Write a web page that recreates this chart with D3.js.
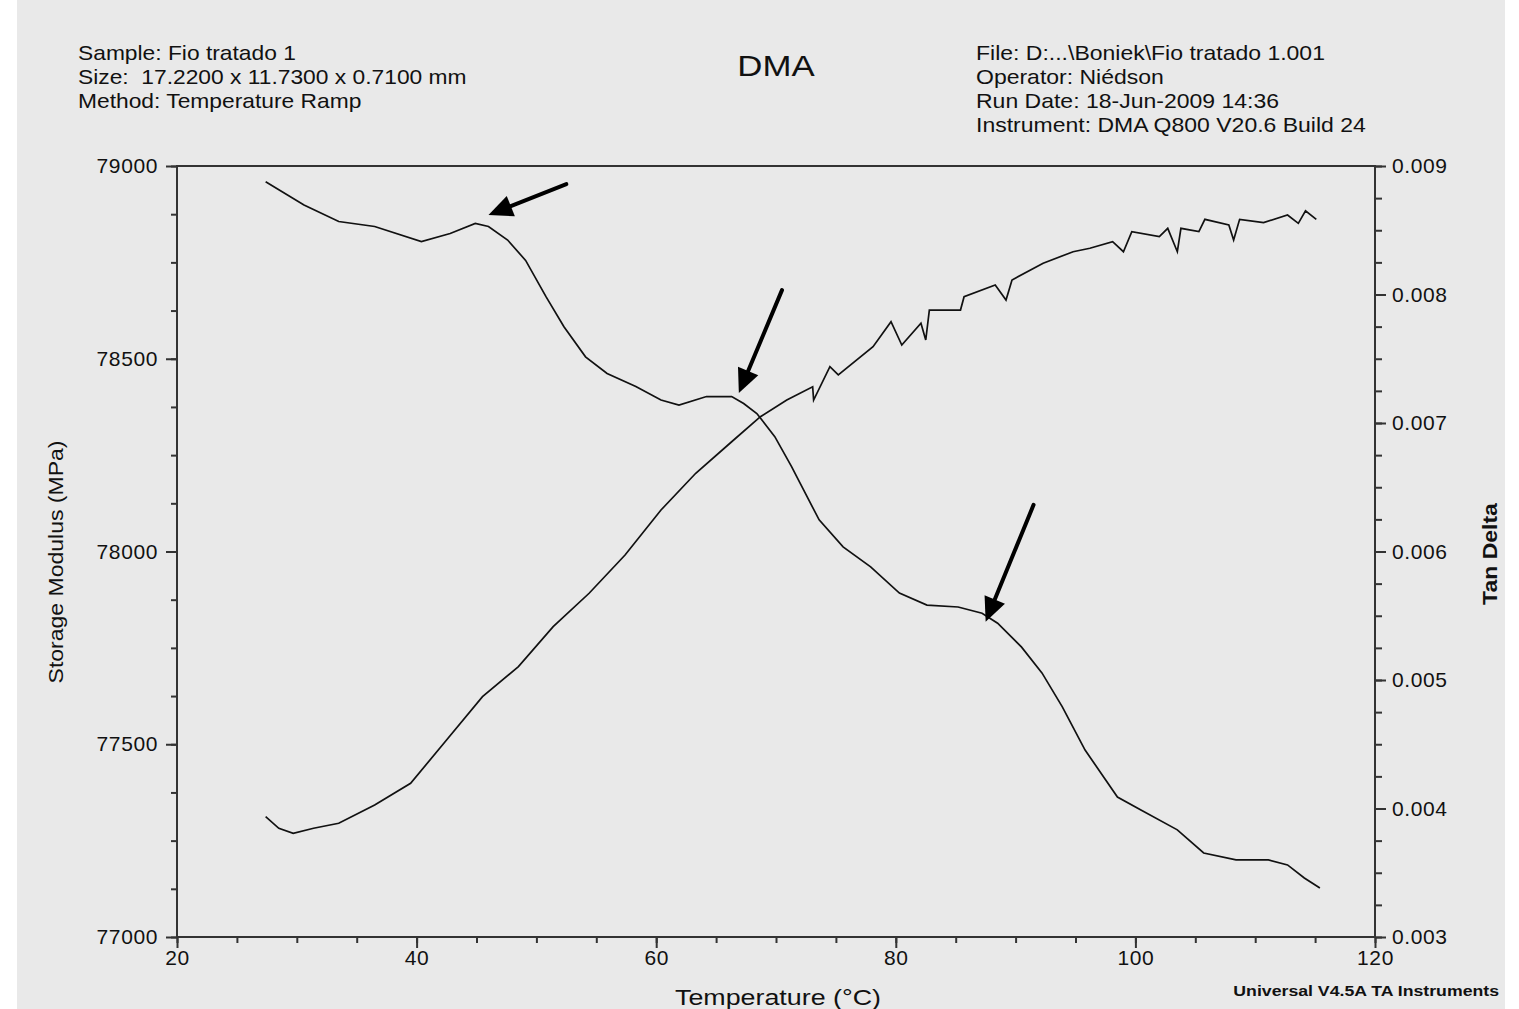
<!DOCTYPE html>
<html>
<head>
<meta charset="utf-8">
<script src="https://cdn.jsdelivr.net/npm/d3@7"></script>
<style>
  body { margin: 0; background: #fff; }
  text { font-family: "Liberation Sans", Arial, sans-serif; fill: #111; white-space: pre; }
</style>
</head>
<body>
<svg id="dma"></svg>
<script>
// storage modulus curve (left axis), temperature in °C
var smTemp = [27.4, 30.6, 33.5, 36.5, 40.4, 42.8, 44.9, 46.0, 47.6, 49.1, 50.8, 52.3, 54.1, 55.9, 58.3, 60.4,
  61.9, 64.2, 66.3, 67.3, 68.4, 69.9, 71.3, 72.0, 73.6, 75.6, 77.9, 80.3, 82.6, 85.2, 87.2, 88.5, 90.5, 92.2,
  93.9, 95.8, 98.5, 100.5, 103.5, 105.7, 108.4, 111.1, 112.7, 114.1, 115.4];
var smValue = [78959, 78899, 78856, 78843, 78804, 78825, 78851, 78843, 78808, 78755, 78661, 78583, 78505, 78462, 78428, 78393,
  78380, 78402, 78402, 78384, 78358, 78298, 78220, 78178, 78082, 78012, 77960, 77892, 77861, 77856, 77840, 77814, 77752, 77685,
  77597, 77485, 77363, 77329, 77278, 77218, 77200, 77200, 77187, 77153, 77127];

// tan delta curve (right axis)
var tdTemp = [27.4, 28.5, 29.7, 31.4, 33.5, 36.5, 39.5, 42.5, 45.5, 48.5, 51.4, 54.4, 57.4, 60.4, 63.3, 66.3,
  68.7, 70.9, 73.06, 73.14, 74.5, 75.2, 78.1, 79.6, 80.5, 82.1, 82.5, 82.8, 85.4, 85.7, 88.3, 89.2, 89.7, 92.3,
  94.8, 96.2, 98.1, 99.0, 99.7, 102.0, 102.7, 103.5, 103.8, 105.3, 105.8, 107.8, 108.2, 108.7, 110.7, 112.7,
  113.6, 114.2, 115.1];
var tdValue = [0.003936, 0.003846, 0.003807, 0.003846, 0.003885, 0.004027, 0.004196, 0.004533, 0.004870, 0.005104,
  0.005415, 0.005675, 0.005973, 0.006323, 0.006609, 0.006854, 0.007049, 0.007179, 0.007282, 0.007179, 0.007438,
  0.007374, 0.007594, 0.007788, 0.007607, 0.007776, 0.007646, 0.007879, 0.007879, 0.007983, 0.008074, 0.007957,
  0.008113, 0.008243, 0.008333, 0.008360, 0.008411, 0.008333, 0.008489, 0.008450, 0.008515, 0.008333, 0.008515,
  0.008489, 0.008585, 0.008541, 0.008424, 0.008585, 0.008559, 0.008619, 0.008554, 0.008652, 0.008585];

// annotation arrows, [tail T, tail MPa, tip T, tip MPa]
var arrows = [
  [52.5, 78953, 46.0, 78873],
  [70.5, 78678, 66.9, 78411],
  [91.5, 78121, 87.5, 77818]
];

var xTicks = [20, 40, 60, 80, 100, 120];
var yLeftTicks = [77000, 77500, 78000, 78500, 79000];
var yRightTicks = [0.003, 0.004, 0.005, 0.006, 0.007, 0.008, 0.009];

var headerLeft = ["Sample: Fio tratado 1", "Size:  17.2200 x 11.7300 x 0.7100 mm", "Method: Temperature Ramp"];
var headerRight = ["File: D:...\\Boniek\\Fio tratado 1.001", "Operator: Niédson", "Run Date: 18-Jun-2009 14:36",
  "Instrument: DMA Q800 V20.6 Build 24"];

var W = 1519, H = 1009;
var margin = {top: 166, right: 144, bottom: 72, left: 177};
var width = W - margin.left - margin.right,
    height = H - margin.top - margin.bottom;

var svg = d3.select("#dma").attr("width", W).attr("height", H);

// grey page
svg.append("rect").attr("x", 17).attr("y", 0).attr("width", 1488).attr("height", H).attr("fill", "#e9e9e9");

var g = svg.append("g").attr("transform", "translate(" + margin.left + "," + margin.top + ")");

var x = d3.scaleLinear().domain([20, 120]).range([0, width]);
var yL = d3.scaleLinear().domain([77000, 79000]).range([height, 0]);
var yR = d3.scaleLinear().domain([0.003, 0.009]).range([height, 0]);

function styleAxis(sel) {
  sel.select(".domain").remove();
  sel.selectAll("line").attr("stroke", "#333").attr("stroke-width", 2);
  sel.selectAll("text").style("font-size", "21px").style("letter-spacing", "0.6px").attr("fill", "#111");
}

// minor ticks
g.append("g").attr("transform", "translate(0," + height + ")")
  .call(d3.axisBottom(x).tickValues(d3.range(20, 121, 5)).tickSize(6).tickFormat(""))
  .call(styleAxis);
g.append("g")
  .call(d3.axisLeft(yL).tickValues(d3.range(77000, 79001, 125)).tickSize(6).tickFormat(""))
  .call(styleAxis);
g.append("g").attr("transform", "translate(" + width + ",0)")
  .call(d3.axisRight(yR).tickValues(d3.range(0, 25).map(function(i) { return 0.003 + i * 0.00025; })).tickSize(7).tickFormat(""))
  .call(styleAxis);

// major ticks
g.append("g").attr("transform", "translate(0," + height + ")")
  .call(d3.axisBottom(x).tickValues(xTicks).tickSize(11).tickPadding(2).tickFormat(d3.format("d")))
  .call(styleAxis);
g.append("g")
  .call(d3.axisLeft(yL).tickValues(yLeftTicks).tickSize(11).tickPadding(8).tickFormat(d3.format("d")))
  .call(styleAxis);
g.append("g").attr("transform", "translate(" + width + ",0)")
  .call(d3.axisRight(yR).tickValues(yRightTicks).tickSize(11).tickPadding(6).tickFormat(d3.format(".3f")))
  .call(styleAxis);

// frame
g.append("rect").attr("width", width).attr("height", height)
  .attr("fill", "none").attr("stroke", "#333").attr("stroke-width", 2);

// curves
var smData = smTemp.map(function(t, i) { return [t, smValue[i]]; });
var tdData = tdTemp.map(function(t, i) { return [t, tdValue[i]]; });

g.append("path").datum(smData)
  .attr("fill", "none").attr("stroke", "#111").attr("stroke-width", 1.7)
  .attr("d", d3.line().x(function(d) { return x(d[0]); }).y(function(d) { return yL(d[1]); }));

g.append("path").datum(tdData)
  .attr("fill", "none").attr("stroke", "#111").attr("stroke-width", 1.7)
  .attr("d", d3.line().x(function(d) { return x(d[0]); }).y(function(d) { return yR(d[1]); }));

// arrows
arrows.forEach(function(a) {
  var x1 = x(a[0]), y1 = yL(a[1]), x2 = x(a[2]), y2 = yL(a[3]);
  var ang = Math.atan2(y2 - y1, x2 - x1);
  var len = 24, hw = 11;
  var bx = x2 - len * Math.cos(ang), by = y2 - len * Math.sin(ang);
  g.append("line").attr("x1", x1).attr("y1", y1).attr("x2", bx).attr("y2", by)
    .attr("stroke", "#000").attr("stroke-width", 4).attr("stroke-linecap", "round");
  g.append("polygon").attr("fill", "#000")
    .attr("points", [[x2, y2],
      [bx + hw * Math.sin(ang), by - hw * Math.cos(ang)],
      [bx - hw * Math.sin(ang), by + hw * Math.cos(ang)]].join(" "));
});

// the printout's text is a little wider than the font, so stretch it
function label(px, py, size, sx, txt, opts) {
  opts = opts || {};
  var t = svg.append("g")
    .attr("transform", "translate(" + px + "," + py + ")" + (opts.rotate ? " rotate(-90)" : "") + " scale(" + sx + ",1)")
    .append("text").style("font-size", size + "px").text(txt);
  if (opts.anchor) t.attr("text-anchor", opts.anchor);
  if (opts.bold) t.style("font-weight", "bold");
  return t;
}

headerLeft.forEach(function(d, i) { label(78, 60 + i * 24, 20, 1.14, d); });
headerRight.forEach(function(d, i) { label(976, 60 + i * 24, 20, 1.15, d); });
label(776, 76, 29, 1.2, "DMA", {anchor: "middle"});

// axis titles
label(778, 1005, 22, 1.22, "Temperature (°C)", {anchor: "middle"});
label(63, 562, 20, 1.15, "Storage Modulus (MPa)", {anchor: "middle", rotate: true});
label(1497, 554, 20, 1.15, "Tan Delta", {anchor: "middle", rotate: true, bold: true});

label(1499, 996, 15, 1.18, "Universal V4.5A TA Instruments", {anchor: "end", bold: true});
</script>
</body>
</html>
